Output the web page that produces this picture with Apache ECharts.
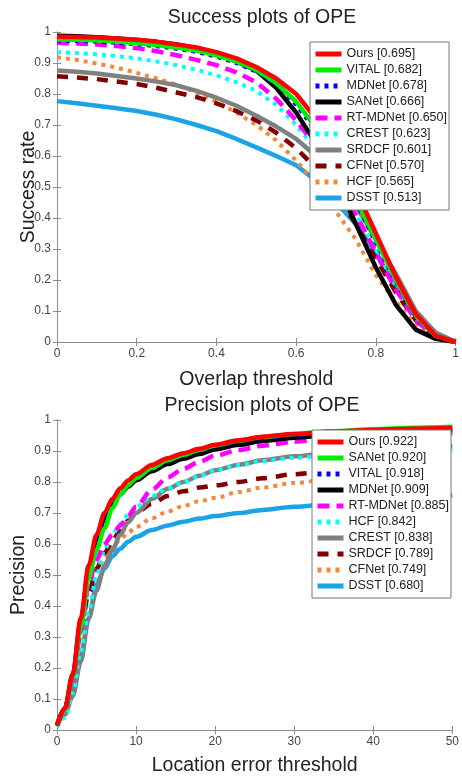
<!DOCTYPE html>
<html>
<head>
<meta charset="utf-8">
<script src="https://cdn.jsdelivr.net/npm/echarts@6/dist/echarts.min.js"></script>
<style>
html,body{margin:0;padding:0;background:#fff;}
#chart{width:462px;height:778px;}
</style>
</head>
<body>
<div id="chart"></div>
<script>
// ---------- Success plot (top) ----------
const successX = [0,0.05,0.1,0.15,0.2,0.25,0.3,0.35,0.4,0.45,0.5,0.55,0.6,0.65,0.7,0.75,0.8,0.85,0.9,0.95,1];
const successNames  = ['Ours','VITAL','MDNet','SANet','RT-MDNet','CREST','SRDCF','CFNet','HCF','DSST'];
const successScores = ['0.695','0.682','0.678','0.666','0.650','0.623','0.601','0.570','0.565','0.513'];
const sOurs    = [.985,.984,.982,.979,.975,.969,.960,.950,.935,.915,.887,.850,.800,.720,.620,.490,.350,.210,.090,.020,0];
const sVITAL   = [.976,.975,.973,.969,.964,.958,.950,.940,.925,.905,.878,.835,.775,.690,.585,.460,.330,.200,.085,.020,0];
const sMDNet   = [.972,.971,.969,.965,.960,.954,.946,.936,.920,.900,.872,.830,.765,.680,.575,.450,.320,.195,.080,.020,0];
const sSANet   = [.988,.986,.983,.979,.974,.968,.960,.948,.930,.905,.876,.820,.740,.640,.520,.380,.240,.120,.040,.010,0];
const sRTMDNet = [.965,.963,.960,.955,.948,.938,.925,.910,.893,.870,.838,.785,.715,.630,.525,.410,.290,.170,.070,.015,0];
const sCREST   = [.935,.932,.928,.922,.915,.905,.893,.878,.860,.838,.810,.765,.700,.620,.520,.410,.300,.180,.075,.018,0];
const sSRDCF   = [.876,.872,.866,.858,.850,.840,.828,.810,.788,.762,.730,.695,.655,.600,.530,.440,.330,.220,.100,.030,0];
const sCFNet   = [.857,.853,.848,.840,.832,.820,.805,.790,.770,.745,.715,.675,.625,.560,.480,.380,.270,.160,.070,.015,0];
const sHCF     = [.919,.910,.898,.885,.868,.850,.830,.805,.775,.740,.700,.650,.585,.510,.420,.330,.215,.130,.055,.012,0];
const sDSST    = [.777,.770,.762,.754,.745,.733,.718,.700,.680,.655,.628,.600,.570,.520,.450,.380,.285,.170,.090,.030,0];
const successValues = [sOurs,sVITAL,sMDNet,sSANet,sRTMDNet,sCREST,sSRDCF,sCFNet,sHCF,sDSST];

// ---------- Precision plot (bottom) ----------
const precisionX = [0,1,2,3,4,5,6,7,8,9,10,12,14,16,18,20,23,26,30,35,40,45,50];
const precisionNames  = ['Ours','SANet','VITAL','MDNet','RT-MDNet','HCF','CREST','SRDCF','CFNet','DSST'];
const precisionScores = ['0.922','0.920','0.918','0.909','0.885','0.842','0.838','0.789','0.749','0.680'];
const pOurs    = [.015,.070,.180,.360,.530,.630,.700,.745,.780,.805,.825,.855,.877,.893,.907,.920,.935,.946,.955,.963,.968,.972,.975];
const pSANet   = [.015,.065,.170,.330,.490,.580,.650,.715,.760,.790,.812,.845,.870,.888,.903,.918,.933,.945,.955,.964,.970,.975,.978];
const pVITAL   = [.015,.070,.175,.350,.520,.620,.690,.737,.772,.798,.818,.848,.871,.887,.902,.915,.930,.942,.952,.960,.965,.969,.972];
const pMDNet   = [.015,.070,.180,.350,.510,.615,.680,.725,.760,.785,.805,.835,.858,.875,.890,.905,.920,.932,.943,.952,.958,.963,.967];
const pRTMDNet = [.015,.060,.160,.320,.470,.550,.600,.630,.660,.690,.720,.775,.815,.843,.865,.885,.903,.917,.930,.941,.948,.953,.957];
const pHCF     = [.010,.040,.120,.250,.380,.500,.580,.630,.665,.695,.720,.755,.780,.800,.820,.838,.855,.868,.878,.887,.893,.898,.902];
const pCREST   = [.015,.050,.110,.220,.360,.450,.530,.580,.630,.670,.700,.745,.778,.800,.820,.838,.856,.870,.883,.895,.904,.910,.915];
const pSRDCF   = [.015,.070,.170,.320,.440,.520,.570,.610,.645,.675,.700,.730,.755,.770,.782,.789,.800,.812,.825,.837,.847,.855,.860];
const pCFNet   = [.010,.050,.150,.300,.450,.510,.555,.590,.615,.637,.655,.683,.705,.723,.738,.749,.768,.782,.797,.810,.822,.832,.840];
const pDSST    = [.015,.065,.140,.240,.360,.470,.520,.560,.585,.607,.623,.645,.660,.672,.682,.690,.700,.710,.720,.730,.740,.750,.757];
const precisionValues = [pOurs,pSANet,pVITAL,pMDNet,pRTMDNet,pHCF,pCREST,pSRDCF,pCFNet,pDSST];

// ---------- Styles by rank ----------
const rankColors = ['#ff0000','#00ee00','#0000ff','#000000','#ff00ff','#00ffff','#808080','#800000','#f5883a','#1aa3e6'];
const rankDash   = ['solid','solid',[4,5],'solid',[12,7],[4,5],'solid',[11,9],[4,5],'solid'];
const rankWidth  = [4.5,4.5,4,4.5,4.5,4,4.5,4.5,4,4.5];

const FONT = 'Liberation Sans, Arial, sans-serif';
const BIG = 19.5;
const axisGray = '#8c8c8c';
const labelColor = '#444';

function mkSeries(names, scores, xs, values, xi, yi, smooth) {
  const out = [];
  for (let i = names.length - 1; i >= 0; i--) {
    out.push({
      type: 'line',
      name: names[i] + ' [' + scores[i] + ']',
      xAxisIndex: xi, yAxisIndex: yi,
      data: xs.map((x, k) => [x, values[i][k]]),
      symbol: 'none',
      smooth: smooth,
      smoothMonotone: 'x',
      lineStyle: { color: rankColors[i], width: rankWidth[i], type: rankDash[i], cap: 'butt' },
      itemStyle: { color: rankColors[i] },
      emphasis: { disabled: true },
      animation: false,
      z: 2
    });
  }
  return out;
}

function boxAxes(gridIndex, xmin, xmax, xint, fmt) {
  return {
    x: [
      { type: 'value', gridIndex, min: xmin, max: xmax, interval: xint, position: 'bottom',
        axisLine: { lineStyle: { color: axisGray, width: 1 } },
        axisTick: { inside: true, length: 4, lineStyle: { color: axisGray } },
        splitLine: { show: false },
        axisLabel: { color: labelColor, fontFamily: FONT, fontSize: 12, margin: 6, formatter: fmt } },
      { type: 'value', gridIndex, min: xmin, max: xmax, interval: xint, position: 'top',
        axisLine: { lineStyle: { color: axisGray, width: 1 } },
        axisTick: { inside: true, length: 4, lineStyle: { color: axisGray } },
        splitLine: { show: false }, axisLabel: { show: false } }
    ],
    y: [
      { type: 'value', gridIndex, min: 0, max: 1, interval: 0.1, position: 'left',
        axisLine: { show: true, lineStyle: { color: axisGray, width: 1 } },
        axisTick: { show: true, inside: true, length: 4, lineStyle: { color: axisGray } },
        splitLine: { show: false },
        axisLabel: { color: labelColor, fontFamily: FONT, fontSize: 12, margin: 6,
          formatter: v => (Math.round(v * 10) / 10).toString() } },
      { type: 'value', gridIndex, min: 0, max: 1, interval: 0.1, position: 'right',
        axisLine: { show: true, lineStyle: { color: axisGray, width: 1 } },
        axisTick: { show: true, inside: true, length: 4, lineStyle: { color: axisGray } },
        splitLine: { show: false }, axisLabel: { show: false } }
    ]
  };
}

const axTop = boxAxes(0, 0, 1, 0.2, v => (Math.round(v * 10) / 10).toString());
const axBot = boxAxes(1, 0, 50, 10, v => v.toString());
axTop.x[0].name = 'Overlap threshold';
axBot.x[0].name = 'Location error threshold';
axTop.y[0].name = 'Success rate';
axBot.y[0].name = 'Precision';
axTop.x[0].nameGap = 28;
axBot.x[0].nameGap = 26;
axTop.y[0].nameGap = 18;
axBot.y[0].nameGap = 28.5;
[axTop.x[0], axBot.x[0], axTop.y[0], axBot.y[0]].forEach(a => {
  a.nameLocation = 'middle';
  a.nameMoveOverlap = false;
  a.nameTextStyle = { fontFamily: FONT, fontSize: BIG, color: '#222' };
});

function mkLegend(names, scores, left, topPx) {
  return {
    orient: 'vertical', left: left, top: topPx,
    data: names.map((n, i) => n + ' [' + scores[i] + ']'),
    itemWidth: 26, itemHeight: 1, itemGap: 2,
    padding: [5, 2, 5, 3],
    backgroundColor: '#fff', borderColor: '#777', borderWidth: 1,
    textStyle: { fontFamily: FONT, fontSize: 12.5, color: '#222', lineHeight: 14 },
    lineStyle: { width: 5 },
    itemStyle: { opacity: 0, borderWidth: 0 },
    selectedMode: false,
    z: 10
  };
}

const chart = echarts.init(document.getElementById('chart'), null, { renderer: 'canvas' });
chart.setOption({
  backgroundColor: '#fff',
  animation: false,
  title: [
    { text: 'Success plots of OPE', left: 257, top: 3, textAlign: 'center',
      textStyle: { fontFamily: FONT, fontSize: BIG, fontWeight: 'normal', color: '#222' } },
    { text: 'Precision plots of OPE', left: 257, top: 391, textAlign: 'center',
      textStyle: { fontFamily: FONT, fontSize: BIG, fontWeight: 'normal', color: '#222' } }
  ],
  grid: [
    { left: 57, top: 32, width: 401, height: 310 },
    { left: 57, top: 420, width: 401, height: 310 }
  ],
  xAxis: [axTop.x[0], axTop.x[1], axBot.x[0], axBot.x[1]],
  yAxis: [axTop.y[0], axTop.y[1], axBot.y[0], axBot.y[1]],
  legend: [
    mkLegend(successNames, successScores, 310, 42),
    mkLegend(precisionNames, precisionScores, 312, 430)
  ],
  series: [].concat(
    mkSeries(successNames, successScores, successX, successValues, 0, 0, false),
    mkSeries(precisionNames, precisionScores, precisionX, precisionValues, 2, 2, 0.3)
  )
});
</script>
</body>
</html>
